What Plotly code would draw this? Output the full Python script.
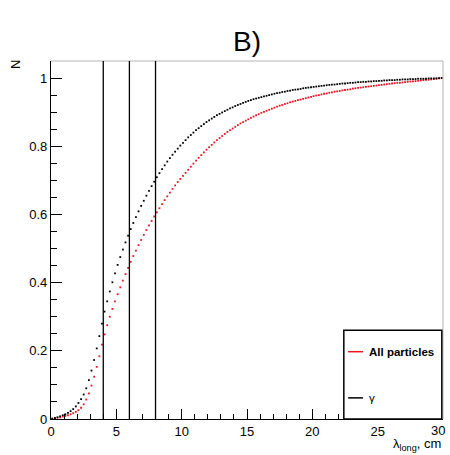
import plotly.graph_objects as go

# ---------------- data ----------------
bin_width = 0.2
x_centers = [round(0.1 + bin_width * i, 1) for i in range(150)]

gamma_cum = [
    0.001, 0.003, 0.005, 0.008, 0.011, 0.014, 0.018, 0.023, 0.029, 0.037,
    0.047, 0.058, 0.072, 0.090, 0.114, 0.142, 0.173, 0.207, 0.243, 0.280,
    0.315, 0.345, 0.374, 0.401, 0.427, 0.452, 0.475, 0.497, 0.518, 0.538,
    0.557, 0.575, 0.592, 0.609, 0.625, 0.640, 0.655, 0.669, 0.683, 0.696,
    0.709, 0.721, 0.733, 0.744, 0.755, 0.765, 0.775, 0.784, 0.793, 0.802,
    0.810, 0.818, 0.826, 0.833, 0.840, 0.847, 0.853, 0.859, 0.865, 0.871,
    0.876, 0.881, 0.886, 0.891, 0.895, 0.899, 0.903, 0.907, 0.911, 0.914,
    0.918, 0.921, 0.924, 0.927, 0.930, 0.933, 0.935, 0.938, 0.940, 0.942,
    0.944, 0.946, 0.948, 0.950, 0.952, 0.954, 0.956, 0.957, 0.959, 0.960,
    0.962, 0.963, 0.965, 0.966, 0.967, 0.968, 0.970, 0.971, 0.972, 0.973,
    0.974, 0.975, 0.976, 0.977, 0.978, 0.979, 0.980, 0.981, 0.981, 0.982,
    0.983, 0.984, 0.984, 0.985, 0.986, 0.986, 0.987, 0.988, 0.988, 0.989,
    0.989, 0.990, 0.990, 0.991, 0.991, 0.992, 0.992, 0.993, 0.993, 0.994,
    0.994, 0.994, 0.995, 0.995, 0.996, 0.996, 0.996, 0.997, 0.997, 0.997,
    0.998, 0.998, 0.998, 0.998, 0.999, 0.999, 0.999, 0.999, 1.000, 1.000,
]

all_cum = [
    0.001, 0.002, 0.004, 0.005, 0.007, 0.009, 0.011, 0.014, 0.017, 0.021,
    0.026, 0.033, 0.043, 0.057, 0.075, 0.098, 0.124, 0.153, 0.184, 0.218,
    0.248, 0.275, 0.300, 0.323, 0.345, 0.366, 0.386, 0.406, 0.425, 0.443,
    0.461, 0.478, 0.494, 0.510, 0.525, 0.540, 0.554, 0.568, 0.581, 0.594,
    0.606, 0.618, 0.630, 0.642, 0.653, 0.664, 0.675, 0.685, 0.695, 0.704,
    0.713, 0.722, 0.731, 0.740, 0.749, 0.758, 0.766, 0.774, 0.782, 0.790,
    0.797, 0.804, 0.811, 0.818, 0.824, 0.830, 0.836, 0.842, 0.847, 0.852,
    0.857, 0.862, 0.867, 0.871, 0.875, 0.879, 0.883, 0.887, 0.891, 0.894,
    0.898, 0.901, 0.904, 0.907, 0.910, 0.913, 0.916, 0.919, 0.921, 0.924,
    0.926, 0.929, 0.931, 0.933, 0.935, 0.937, 0.939, 0.941, 0.943, 0.945,
    0.947, 0.949, 0.950, 0.952, 0.954, 0.955, 0.957, 0.958, 0.960, 0.961,
    0.962, 0.964, 0.965, 0.966, 0.967, 0.969, 0.970, 0.971, 0.972, 0.973,
    0.974, 0.975, 0.976, 0.977, 0.978, 0.979, 0.980, 0.981, 0.982, 0.983,
    0.984, 0.985, 0.986, 0.986, 0.987, 0.988, 0.989, 0.990, 0.990, 0.991,
    0.992, 0.993, 0.994, 0.995, 0.995, 0.996, 0.997, 0.998, 0.999, 1.000,
]

cut_values = [4, 6, 8]
x_tickvals = [0, 5, 10, 15, 20, 25, 30]
x_ticktext = ["0", "5", "10", "15", "20", "25", "30"]
y_tickvals = [0, 0.2, 0.4, 0.6, 0.8, 1]
y_ticktext = ["0", "0.2", "0.4", "0.6", "0.8", "1"]
series_names = ["All particles", "γ"]
title_text = "B)"

FONT = "Liberation Sans, Arial, Helvetica, sans-serif"
RED = "#e8141e"
TICKSIZE = 13

fig = go.Figure()
fig.add_trace(go.Scatter(x=x_centers, y=all_cum, mode="markers", name=series_names[0],
                         marker=dict(symbol="square", size=1.8, color=RED, line=dict(width=0)),
                         showlegend=False))
fig.add_trace(go.Scatter(x=x_centers, y=gamma_cum, mode="markers", name=series_names[1],
                         marker=dict(symbol="square", size=1.8, color="black", line=dict(width=0)),
                         showlegend=False))

# last x label drawn separately (it would overflow the page edge)
shown_xtext = x_ticktext[:-1] + [""]
fig.update_xaxes(range=[0, 30], tickvals=x_tickvals, ticktext=shown_xtext, ticks="inside", ticklen=10,
                 tickwidth=1, tickcolor="black", showline=True, linecolor="black", linewidth=1.3,
                 showgrid=False, zeroline=False, tickfont=dict(family=FONT, size=TICKSIZE, color="black"),
                 minor=dict(dtick=1, ticks="inside", ticklen=5, tickcolor="black", tickwidth=1, showgrid=False))
fig.update_yaxes(range=[0, 1.05], tickvals=y_tickvals, ticktext=y_ticktext, ticks="inside", ticklen=11,
                 tickwidth=1, tickcolor="black", showline=True, linecolor="black", linewidth=1.3,
                 showgrid=False, zeroline=False, tickfont=dict(family=FONT, size=TICKSIZE, color="black"),
                 minor=dict(dtick=0.05, ticks="inside", ticklen=6, tickcolor="black", tickwidth=1, showgrid=False))

shapes = []
shapes.append(dict(type="line", xref="paper", yref="paper", x0=0, x1=1, y0=1, y1=1,
                   line=dict(color="#b4b4b4", width=1)))
shapes.append(dict(type="line", xref="paper", yref="paper", x0=1, x1=1, y0=0, y1=1,
                   line=dict(color="#b4b4b4", width=1)))
for c in cut_values:
    shapes.append(dict(type="line", xref="x", yref="paper", x0=c, x1=c, y0=0, y1=1,
                       line=dict(color="black", width=1.3)))

# legend box (paper coords)
lx0, lx1, ly0, ly1 = 0.747, 0.997, 0.0, 0.248
shapes.append(dict(type="rect", xref="paper", yref="paper", x0=lx0, x1=lx1, y0=ly0, y1=ly1,
                   line=dict(color="black", width=1.5), fillcolor="white", layer="above"))
shapes.append(dict(type="line", xref="paper", yref="paper", x0=0.758, x1=0.796, y0=0.188, y1=0.188,
                   line=dict(color=RED, width=1.5), layer="above"))
shapes.append(dict(type="line", xref="paper", yref="paper", x0=0.758, x1=0.796, y0=0.059, y1=0.059,
                   line=dict(color="black", width=1.5), layer="above"))

annotations = [
    dict(text=title_text, xref="paper", yref="paper", x=0.500, y=1.0, yshift=20, showarrow=False,
         xanchor="center", yanchor="middle", font=dict(family=FONT, size=28, color="black")),
    dict(text="N", xref="paper", yref="paper", x=0, xshift=-36, y=1.0, yshift=-4, textangle=-90,
         showarrow=False, xanchor="center", yanchor="middle", font=dict(family=FONT, size=13, color="black")),
    dict(text="λ<sub>long</sub>, cm", xref="paper", yref="paper", x=1.0, y=0, yshift=-35.5, showarrow=False,
         xanchor="right", yanchor="bottom", font=dict(family=FONT, size=13, color="black")),
    dict(text=x_ticktext[-1], xref="x", yref="paper", x=x_tickvals[-1], xshift=-5, y=0, yshift=-2,
         showarrow=False, xanchor="center", yanchor="top",
         font=dict(family=FONT, size=TICKSIZE, color="black")),
    dict(text="<b>" + series_names[0] + "</b>", xref="paper", yref="paper", x=0.806, y=0.188,
         showarrow=False, xanchor="left", yanchor="middle", font=dict(family=FONT, size=11.5, color="black")),
    dict(text=series_names[1], xref="paper", yref="paper", x=0.806, y=0.059,
         showarrow=False, xanchor="left", yanchor="middle", font=dict(family=FONT, size=11.5, color="black")),
]

fig.update_layout(width=450, height=455, margin=dict(l=51, r=7, t=61, b=36),
                  paper_bgcolor="white", plot_bgcolor="white", shapes=shapes, annotations=annotations,
                  showlegend=False)

fig.write_html("out.html")
